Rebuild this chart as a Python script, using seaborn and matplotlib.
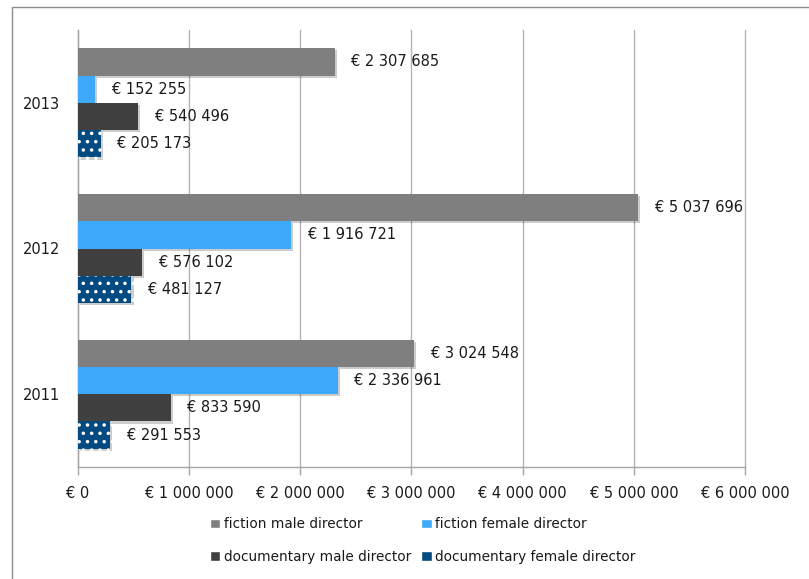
import matplotlib
matplotlib.use("Agg")
import matplotlib.pyplot as plt
import matplotlib.patheffects as pe
from matplotlib.patches import Rectangle
import seaborn as sns
import pandas as pd

# Funding per year and category (EUR)
years = ["2013", "2012", "2011"]
categories = ["fiction male director", "fiction female director",
              "documentary male director", "documentary female director"]
fiction_male = [2307685, 5037696, 3024548]
fiction_female = [152255, 1916721, 2336961]
documentary_male = [540496, 576102, 833590]
documentary_female = [205173, 481127, 291553]
x_ticks = [0, 1000000, 2000000, 3000000, 4000000, 5000000, 6000000]

colors = ["#7f7f7f", "#3fa9f9", "#404040", "#024a80"]


def euro(v):
    s = f"{v:,}".replace(",", " ")
    return f"€ {s}"


rows = []
for series, name in zip([fiction_male, fiction_female, documentary_male, documentary_female], categories):
    for y, v in zip(years, series):
        rows.append({"year": y, "category": name, "amount": v})
df = pd.DataFrame(rows)

sns.set_theme(style="white")
plt.rcParams["font.family"] = ["DejaVu Sans"]
plt.rcParams["hatch.linewidth"] = 1.3

fig = plt.figure(figsize=(8.09, 5.79), dpi=100)
ax = fig.add_axes([78 / 809, 1 - 467 / 579, (745 - 78) / 809, (467 - 30) / 579])

sns.barplot(data=df, y="year", x="amount", hue="category", order=years,
            hue_order=categories, palette=colors, orient="h", width=0.75,
            saturation=1, errorbar=None, ax=ax, legend=True, zorder=3)

shadow = [pe.SimplePatchShadow(offset=(1.5, -1.5), shadow_rgbFace="#000000", alpha=0.2), pe.Normal()]
for container, name in zip(ax.containers, categories):
    for bar in container:
        bar.set_linewidth(0)
        bar.set_path_effects(shadow)
        if name == "documentary female director":
            bar.set_hatch("..")
            bar.set_edgecolor("white")
    ax.bar_label(container, labels=[euro(int(v)) for v in container.datavalues],
                 padding=12, fontsize=10.5, color="#1a1a1a")

ax.set_xlim(0, 6000000)
ax.set_xticks(x_ticks)
ax.set_xticklabels([euro(v) for v in x_ticks], fontsize=10.5, color="#1a1a1a")
ax.tick_params(axis="x", direction="out", length=6, width=1, color="#a6a6a6", pad=8, bottom=True)
ax.tick_params(axis="y", length=0, labelsize=10.5, labelcolor="#1a1a1a", pad=13)
ax.set_xlabel("")
ax.set_ylabel("")
ax.xaxis.grid(True, color="#b3b3b3", linewidth=1)
for gl in ax.get_xgridlines():
    gl.set_clip_on(False)
ax.set_axisbelow(True)
for side in ["top", "right"]:
    ax.spines[side].set_visible(False)
for side in ["left", "bottom"]:
    ax.spines[side].set_color("#a6a6a6")
    ax.spines[side].set_linewidth(1)

handles, labels = ax.get_legend_handles_labels()
ax.legend_.remove()
# two rows, filled row by row
order = [0, 2, 1, 3]
leg = fig.legend([handles[i] for i in order], [labels[i] for i in order],
                 loc="upper left", bbox_to_anchor=(198 / 809, 1 - 505 / 579),
                 ncol=2, frameon=False, fontsize=9.8, handlelength=0.75, handleheight=0.75,
                 handletextpad=0.25, columnspacing=0.75, labelspacing=1.35, labelcolor="#1a1a1a")
for h in leg.legend_handles:
    h.set_path_effects([])

# outer chart frame
fig.patches.append(Rectangle((11.5 / 809, -0.05), 1.1, 1 - 6.5 / 579 + 0.05, transform=fig.transFigure,
                             fill=False, edgecolor="#8c8c8c", linewidth=1, figure=fig))

fig.savefig("out.png", dpi=100, facecolor="white")
